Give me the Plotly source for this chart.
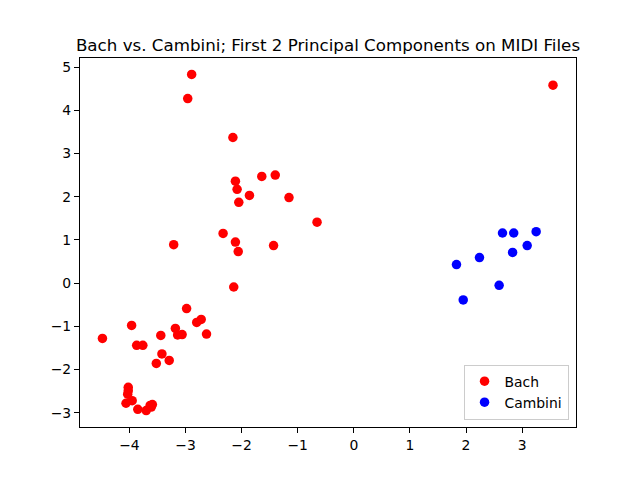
import plotly.graph_objects as go

# first two principal components
bach_pc1 = [-4.48, -3.96, -2.98, -3.87, -3.76, -3.44, -3.18, -3.14, -3.06, -2.80,
            -2.72, -2.625, -3.42, -3.29, -3.52, -4.02, -4.02, -4.03, -4.06, -3.95,
            -3.85, -3.70, -3.63, -3.59, -3.61, -2.89, -2.96, -2.155, -2.11, -2.08,
            -1.64, -1.40, -1.86, -2.05, -1.155, -0.655, -2.33, -2.11, -2.06, -1.43,
            -3.21, -2.14, 3.55]
bach_pc2 = [-1.28, -0.98, -0.59, -1.44, -1.44, -1.21, -1.05, -1.20, -1.19, -0.91,
            -0.84, -1.18, -1.64, -1.79, -1.86, -2.41, -2.49, -2.57, -2.78, -2.72,
            -2.92, -2.95, -2.83, -2.81, -2.87, 4.83, 4.27, 3.37, 2.36, 2.17,
            2.47, 2.50, 2.03, 1.87, 1.98, 1.41, 1.15, 0.95, 0.73, 0.87,
            0.89, -0.09, 4.58]

cambini_pc1 = [2.65, 2.85, 3.25, 3.09, 2.83, 2.24, 1.83, 2.59, 1.95]
cambini_pc2 = [1.16, 1.16, 1.19, 0.87, 0.71, 0.59, 0.43, -0.05, -0.39]

fig = go.Figure()
fig.add_trace(go.Scatter(x=bach_pc1, y=bach_pc2, mode="markers", name="Bach",
                         marker=dict(color="#ff0000", size=9.5)))
fig.add_trace(go.Scatter(x=cambini_pc1, y=cambini_pc2, mode="markers", name="Cambini",
                         marker=dict(color="#0000ff", size=9.5)))

axis_style = dict(showgrid=False, zeroline=False, showline=True, linecolor="black",
                  linewidth=1.1, mirror=True, ticks="outside", ticklen=5, tickwidth=1.1,
                  tickcolor="black", tickfont=dict(size=13.9, color="black"))

fig.update_xaxes(range=[-4.88, 3.96], tickvals=[-4, -3, -2, -1, 0, 1, 2, 3],
                 ticktext=["\u22124", "\u22123", "\u22122", "\u22121", "0", "1", "2", "3"],
                 **axis_style)
fig.update_yaxes(range=[-3.33, 5.21], tickvals=[-3, -2, -1, 0, 1, 2, 3, 4, 5],
                 ticktext=["\u22123", "\u22122", "\u22121", "0", "1", "2", "3", "4", "5"],
                 **axis_style)

# page body has an 8px margin, so the figure sits 8px right and down
fig.update_layout(
    width=640, height=480,
    margin=dict(l=72, r=72, t=50, b=61),
    paper_bgcolor="white", plot_bgcolor="white",
    font=dict(family="DejaVu Sans", color="black"),
    title=dict(text="Bach vs. Cambini; First 2 Principal Components on MIDI Files",
               x=0.5, xref="paper", xanchor="center",
               y=1, yref="paper", yanchor="bottom", pad=dict(b=7),
               font=dict(size=16.7, color="black")),
    legend=dict(x=0.985, y=0.02, xanchor="right", yanchor="bottom",
                bordercolor="#cccccc", borderwidth=1, bgcolor="rgba(255,255,255,0.8)",
                font=dict(size=13.9), itemwidth=30),
    showlegend=True,
)

fig.write_html("out.html")
